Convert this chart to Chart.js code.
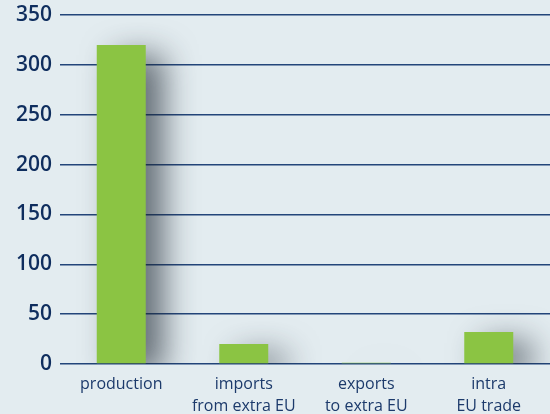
<!DOCTYPE html>
<html>
<head>
<meta charset="utf-8">
<script src="https://cdn.jsdelivr.net/npm/chart.js@4"></script>
<style>
  html, body { margin:0; padding:0; background:#e3ecf0; }
  #wrap { width:550px; height:414px; }
</style>
</head>
<body>
<div id="wrap"><canvas id="chart" width="550" height="414"></canvas></div>
<script>
const categories = [['production'], ['imports', 'from extra EU'], ['exports', 'to extra EU'], ['intra', 'EU trade']];
const values     = [320, 20, 1.2, 32];
const yMin = 0, yMax = 350, yStep = 50;

// soft drop shadow behind the bars
const barShadow = {
  id: 'barShadow',
  beforeDatasetsDraw(chart) {
    const ctx = chart.ctx;
    ctx.save();
    ctx.shadowColor = 'rgba(30,40,50,0.65)';
    ctx.shadowBlur = 32;
    ctx.shadowOffsetX = 18;
    ctx.shadowOffsetY = 10;
  },
  afterDatasetsDraw(chart) { chart.ctx.restore(); }
};

new Chart(document.getElementById('chart').getContext('2d'), {
  type: 'bar',
  data: {
    labels: categories,
    datasets: [{ data: values, backgroundColor: '#8bc443', borderWidth: 0,
      barPercentage: 0.4, categoryPercentage: 1 }]
  },
  options: {
    responsive: false, animation: false,
    layout: { padding: { top: 15, right: 0, left: 0, bottom: 0 } },
    plugins: { legend: { display: false }, tooltip: { enabled: false } },
    scales: {
      x: {
        grid: { display: false }, border: { display: false },
        ticks: { color: '#1c3a6b', padding: 1, font: { family: 'Open Sans', size: 16, lineHeight: 1.375 } },
        afterFit: s => { s.height = 50; }
      },
      y: {
        min: yMin, max: yMax,
        grid: { color: '#23457a', lineWidth: 1.5, drawTicks: false },
        border: { display: false },
        ticks: { stepSize: yStep, color: '#0e2d5e', padding: 8,
          font: { family: 'Open Sans', size: 21, weight: '600' } },
        afterFit: s => { s.width = 60; s.paddingTop = 0; s.paddingBottom = 0; }
      }
    }
  },
  plugins: [barShadow]
});
</script>
</body>
</html>
